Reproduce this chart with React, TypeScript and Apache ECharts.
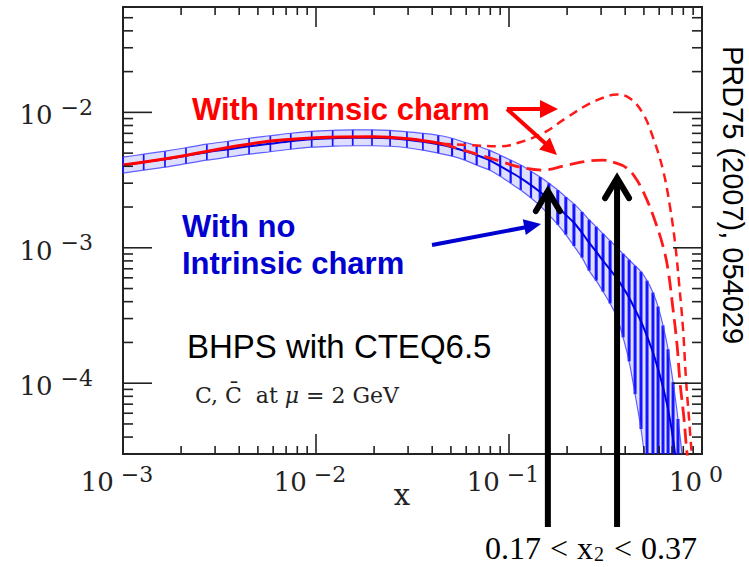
import React, { useEffect, useRef } from "react";
import * as echarts from "echarts";

// ---- axis ranges / tick labels ----
const X_MIN = 0.001;
const X_MAX = 1;
const Y_MIN = 3e-5;
const Y_MAX = 6e-2;
const xTickExps = [-3, -2, -1, 0];
const yTickExps = [-5, -4, -3, -2, -1];
const minorMultipliers = [2, 3, 4, 5, 6, 7, 8, 9];

// ---- "With no intrinsic charm" band (CTEQ6.5) ----
const xGrid = [0.001, 0.00128, 0.00165, 0.00212, 0.00272, 0.0035, 0.0045, 0.0058, 0.0074, 0.0095, 0.0122, 0.0155, 0.0195, 0.0242, 0.0296, 0.0358, 0.043, 0.0507, 0.059, 0.068, 0.079, 0.09, 0.102, 0.115, 0.13, 0.145, 0.161, 0.179, 0.197, 0.217, 0.239, 0.26, 0.283, 0.307, 0.334, 0.363, 0.39, 0.419, 0.45, 0.483, 0.519, 0.557, 0.592, 0.628, 0.667, 0.708, 0.751, 0.798];
const noIcUpper = [0.00467, 0.00491, 0.00517, 0.00548, 0.00582, 0.00612, 0.00644, 0.00672, 0.00701, 0.00725, 0.00737, 0.00743, 0.00743, 0.00737, 0.00719, 0.00701, 0.00678, 0.00644, 0.00602, 0.00567, 0.00526, 0.00483, 0.00444, 0.00408, 0.00368, 0.00333, 0.003, 0.00267, 0.00237, 0.00211, 0.00184, 0.00161, 0.00143, 0.00127, 0.00113, 0.001, 0.000904, 0.000816, 0.000737, 0.000666, 0.000572, 0.000467, 0.000368, 0.000267, 0.000178, 0.000102, 0.0000544, 0.0000254];
const noIcCentral = [0.00408, 0.00429, 0.00451, 0.00479, 0.00508, 0.00534, 0.00562, 0.00587, 0.00612, 0.00633, 0.00644, 0.00649, 0.00649, 0.00644, 0.00628, 0.00607, 0.00582, 0.00553, 0.00517, 0.00483, 0.00444, 0.00401, 0.00362, 0.00327, 0.0029, 0.00258, 0.00229, 0.002, 0.00175, 0.00153, 0.00129, 0.00109, 0.000935, 0.000802, 0.000689, 0.000592, 0.000508, 0.000429, 0.00035, 0.000286, 0.000222, 0.000169, 0.000127, 0.0000935, 0.0000644, 0.0000388, 0.0000197, 0.0000084];
const noIcLower = [0.00356, 0.00375, 0.00394, 0.00418, 0.00444, 0.00467, 0.00491, 0.00512, 0.00534, 0.00553, 0.00562, 0.00567, 0.00567, 0.00562, 0.00548, 0.00526, 0.005, 0.00475, 0.00444, 0.00408, 0.00375, 0.00338, 0.003, 0.00267, 0.00233, 0.00204, 0.00175, 0.00148, 0.00125, 0.00103, 0.000845, 0.000678, 0.000572, 0.000475, 0.000388, 0.000306, 0.000218, 0.000145, 0.000083, 0.0000459, 0.0000214, 0.00001, 0.000005, 0.000003, 0.000002, 0.000001, 0.0000005, 0.0000002];

// ---- "With intrinsic charm" (BHPS) ----
const icSolidX = [0.001, 0.002, 0.005, 0.01, 0.02, 0.03, 0.045];
const icSolidY = [0.00408, 0.00475, 0.00597, 0.00649, 0.00661, 0.00638, 0.00587];
const icHighX = [0.045, 0.063, 0.09, 0.114, 0.15, 0.2, 0.263, 0.334, 0.363, 0.424, 0.494, 0.557, 0.628, 0.683, 0.725, 0.76, 0.798, 0.826, 0.857, 0.888];
const icHighY = [0.00587, 0.00572, 0.00562, 0.00602, 0.00701, 0.00919, 0.01165, 0.01334, 0.01356, 0.01267, 0.00983, 0.00655, 0.00375, 0.002, 0.00109, 0.000553, 0.000249, 0.000107, 0.0000544, 0.0000276];
const icLowX = [0.045, 0.063, 0.09, 0.114, 0.15, 0.2, 0.254, 0.307, 0.346, 0.408, 0.46, 0.519, 0.585, 0.635, 0.667, 0.708, 0.742, 0.769, 0.807, 0.836, 0.867];
const icLowY = [0.00587, 0.00508, 0.00436, 0.00394, 0.00375, 0.00408, 0.00436, 0.00444, 0.00429, 0.00388, 0.00316, 0.00225, 0.00143, 0.000967, 0.000689, 0.00035, 0.000194, 0.000102, 0.0000544, 0.0000306, 0.0000214];

// ---- x2 range arrows: [x, y of arrow tip] ----
const arrowX = [0.159, 0.363];
const arrowTipY = [0.00276, 0.00344];

const BLUE = "#1414ff";
const RED = "#ff1a1a";
const AXIS_COLOR = "#222";
const SERIF = '"DejaVu Serif", serif';
const SANS = '"Liberation Sans", Arial, sans-serif';
const TIMES = '"Liberation Serif", serif';

function buildTicks(exps: number[], lo: number, hi: number) {
  const out: any[] = [];
  exps.forEach((e) => {
    const d = Math.pow(10, e);
    if (d >= lo * 0.9999 && d <= hi * 1.0001) out.push([d, 1]);
    minorMultipliers.forEach((m) => {
      const v = d * m;
      if (v >= lo && v <= hi) out.push([v, 0]);
    });
  });
  return out;
}

function fmt(exps: number[]) {
  return (v: number) => {
    const l = Math.log10(v);
    const e = Math.round(l);
    if (Math.abs(l - e) > 1e-6 || exps.indexOf(e) < 0) return "";
    return `{b|10}{s|${e < 0 ? "\u2212" + -e : e}}`;
  };
}

export default function App() {
  const ref = useRef<HTMLDivElement>(null);
  useEffect(() => {
    if (!ref.current) return;
    const chart = echarts.init(ref.current, undefined, { renderer: "svg" });
    const xTicks = buildTicks(xTickExps, X_MIN, X_MAX);
    const yTicks = buildTicks(yTickExps, Y_MIN, Y_MAX);

    const tickStyle = { stroke: AXIS_COLOR, lineWidth: 1.6 };

    const option: any = {
      animation: false,
      backgroundColor: "#fff",
      grid: {
        left: 123,
        right: 47,
        top: 7,
        bottom: 113,
        show: true,
        borderColor: AXIS_COLOR,
        borderWidth: 2,
        backgroundColor: "transparent",
        containLabel: false,
        outerBoundsMode: "none",
      },
      xAxis: {
        type: "log",
        logBase: 10,
        min: X_MIN,
        max: X_MAX,
        splitNumber: 3,
        axisLine: { show: false },
        axisTick: { show: false },
        minorTick: { show: false },
        splitLine: { show: false },
        axisLabel: {
          margin: 9,
          showMinLabel: true,
          showMaxLabel: true,
          color: AXIS_COLOR,
          formatter: fmt(xTickExps),
          rich: {
            b: { fontFamily: SERIF, fontSize: 26, lineHeight: 32, verticalAlign: "bottom", color: AXIS_COLOR },
            s: { fontFamily: SERIF, fontSize: 22, lineHeight: 19, verticalAlign: "top", color: AXIS_COLOR, padding: [0, 12, 0, 7] },
          },
        },
      },
      yAxis: {
        type: "log",
        logBase: 10,
        min: Y_MIN,
        max: Y_MAX,
        axisLine: { show: false },
        axisTick: { show: false },
        minorTick: { show: false },
        splitLine: { show: false },
        axisLabel: {
          margin: 30,
          showMinLabel: false,
          showMaxLabel: false,
          color: AXIS_COLOR,
          formatter: fmt(yTickExps),
          rich: {
            b: { fontFamily: SERIF, fontSize: 26, lineHeight: 32, verticalAlign: "bottom", color: AXIS_COLOR },
            s: { fontFamily: SERIF, fontSize: 22, lineHeight: 19, verticalAlign: "top", color: AXIS_COLOR, padding: [0, 0, 0, 8] },
          },
        },
      },
      series: [
        // band fill
        {
          type: "custom",
          coordinateSystem: "cartesian2d",
          silent: true,
          z: 2,
          data: [[xGrid[0], noIcCentral[0]]],
          renderItem: (params: any, api: any) => {
            const cs = params.coordSys;
            const bottom = cs.y + cs.height;
            const pts: number[][] = [];
            for (let i = 0; i < xGrid.length; i++) {
              const p = api.coord([xGrid[i], noIcUpper[i]]);
              pts.push([p[0], Math.min(p[1], bottom)]);
            }
            for (let i = xGrid.length - 1; i >= 0; i--) {
              const p = api.coord([xGrid[i], noIcLower[i]]);
              pts.push([p[0], Math.min(p[1], bottom)]);
            }
            return { type: "polygon", shape: { points: pts }, style: { fill: "rgba(20,20,255,0.14)" } };
          },
        },
        // error bars
        {
          type: "custom",
          coordinateSystem: "cartesian2d",
          silent: true,
          z: 3,
          data: xGrid.map((x, i) => [x, noIcLower[i], noIcUpper[i]]),
          encode: { x: 0, y: [1, 2] },
          renderItem: (params: any, api: any) => {
            const cs = params.coordSys;
            const x = api.value(0);
            const lo = api.coord([x, api.value(1)]);
            const hi = api.coord([x, api.value(2)]);
            const yb = Math.min(lo[1], cs.y + cs.height);
            const yt = Math.max(hi[1], cs.y);
            if (yt >= yb) return null;
            const i = params.dataIndex;
            const nb = i + 1 < xGrid.length ? xGrid[i + 1] : xGrid[i - 1];
            const gap = Math.abs(api.coord([nb, api.value(1)])[0] - lo[0]);
            const w = gap < 9 ? 3 : gap < 14 ? 2.2 : 1.7;
            return {
              type: "line",
              shape: { x1: lo[0], y1: yb, x2: lo[0], y2: yt },
              style: { stroke: BLUE, lineWidth: w },
            };
          },
        },
        {
          type: "line",
          data: xGrid.map((x, i) => [x, noIcUpper[i]]),
          showSymbol: false,
          smooth: 0.3,
          clip: true,
          z: 3,
          lineStyle: { color: "#3a3aff", width: 1.2, opacity: 0.8 },
        },
        {
          type: "line",
          data: xGrid.map((x, i) => [x, noIcLower[i]]),
          showSymbol: false,
          smooth: 0.3,
          clip: true,
          z: 3,
          lineStyle: { color: "#3a3aff", width: 1.2, opacity: 0.8 },
        },
        {
          type: "line",
          data: xGrid.map((x, i) => [x, noIcCentral[i]]),
          showSymbol: false,
          smooth: 0.3,
          clip: true,
          z: 4,
          lineStyle: { color: "#0000e0", width: 2 },
        },
        // intrinsic charm curves
        {
          type: "line",
          data: icSolidX.map((x, i) => [x, icSolidY[i]]),
          showSymbol: false,
          smooth: 0.4,
          clip: true,
          z: 5,
          lineStyle: { color: "#ff0000", width: 3 },
        },
        {
          type: "line",
          data: icHighX.map((x, i) => [x, icHighY[i]]),
          showSymbol: false,
          smooth: 0.4,
          clip: true,
          z: 5,
          lineStyle: { color: RED, width: 2.5, type: [9, 6] },
        },
        {
          type: "line",
          data: icLowX.map((x, i) => [x, icLowY[i]]),
          showSymbol: false,
          smooth: 0.4,
          clip: true,
          z: 5,
          lineStyle: { color: RED, width: 2.8, type: [15, 7] },
        },
        // x ticks (bottom + top)
        {
          type: "custom",
          coordinateSystem: "cartesian2d",
          silent: true,
          z: 6,
          data: xTicks.map((t) => [t[0], Y_MIN, t[1]]),
          encode: { x: 0, y: 1 },
          renderItem: (params: any, api: any) => {
            const cs = params.coordSys;
            const p = api.coord([api.value(0), Y_MIN]);
            const len = api.value(2) ? 20 : 8;
            const top = cs.y;
            const bottom = cs.y + cs.height;
            return {
              type: "group",
              children: [
                { type: "line", shape: { x1: p[0], y1: bottom, x2: p[0], y2: bottom - len }, style: tickStyle },
                { type: "line", shape: { x1: p[0], y1: top, x2: p[0], y2: top + len }, style: tickStyle },
              ],
            };
          },
        },
        // y ticks (left + right)
        {
          type: "custom",
          coordinateSystem: "cartesian2d",
          silent: true,
          z: 6,
          data: yTicks.map((t) => [X_MIN, t[0], t[1]]),
          encode: { x: 0, y: 1 },
          renderItem: (params: any, api: any) => {
            const cs = params.coordSys;
            const p = api.coord([X_MIN, api.value(1)]);
            const len = api.value(2) ? 29 : 10;
            const left = cs.x;
            const right = cs.x + cs.width;
            return {
              type: "group",
              children: [
                { type: "line", shape: { x1: left, y1: p[1], x2: left + len, y2: p[1] }, style: tickStyle },
                { type: "line", shape: { x1: right, y1: p[1], x2: right - len, y2: p[1] }, style: tickStyle },
              ],
            };
          },
        },
        // black x2-range arrows
        {
          type: "custom",
          coordinateSystem: "cartesian2d",
          silent: true,
          z: 8,
          data: arrowX.map((x, i) => [x, arrowTipY[i]]),
          encode: { x: 0, y: 1 },
          renderItem: (params: any, api: any) => {
            const cs = params.coordSys;
            const p = api.coord([api.value(0), api.value(1)]);
            const base = cs.y + cs.height + 73;
            return {
              type: "group",
              children: [
                { type: "line", shape: { x1: p[0], y1: p[1] + 3, x2: p[0], y2: base }, style: { stroke: "#000", lineWidth: 6 } },
                {
                  type: "polyline",
                  shape: { points: [[p[0] - 12, p[1] + 23], [p[0], p[1] + 3], [p[0] + 12, p[1] + 23]] },
                  style: { stroke: "#000", lineWidth: 6, fill: "none", lineJoin: "miter", lineCap: "round" },
                },
              ],
            };
          },
        },
      ],
      graphic: [
        // red annotation
        {
          type: "text",
          z: 100,
          x: 192,
          y: 109,
          style: { text: "With Intrinsic charm", fill: "#ff0000", font: `bold 31px ${SANS}`, textAlign: "left", textVerticalAlign: "middle", align: "left", verticalAlign: "middle" },
        },
        { type: "line", z: 100, shape: { x1: 507, y1: 109, x2: 544, y2: 109 }, style: { stroke: "#ff0000", lineWidth: 4 } },
        { type: "polygon", z: 100, shape: { points: [[558, 109], [540, 100], [540, 118]] }, style: { fill: "#ff0000" } },
        { type: "line", z: 100, shape: { x1: 507, y1: 109, x2: 546, y2: 144 }, style: { stroke: "#ff0000", lineWidth: 4 } },
        { type: "polygon", z: 100, shape: { points: [[557, 155], [539.1, 149.4], [549.9, 137.6]] }, style: { fill: "#ff0000" } },
        // blue annotation
        {
          type: "text",
          z: 100,
          x: 182,
          y: 226,
          style: { text: "With no", fill: "#0000d0", font: `bold 31px ${SANS}`, textAlign: "left", textVerticalAlign: "middle", align: "left", verticalAlign: "middle" },
        },
        {
          type: "text",
          z: 100,
          x: 182,
          y: 263,
          style: { text: "Intrinsic charm", fill: "#0000d0", font: `bold 31px ${SANS}`, textAlign: "left", textVerticalAlign: "middle", align: "left", verticalAlign: "middle" },
        },
        { type: "line", z: 100, shape: { x1: 432, y1: 245, x2: 527, y2: 227 }, style: { stroke: "#0000d0", lineWidth: 4 } },
        { type: "polygon", z: 100, shape: { points: [[541, 224], [525.8, 235.1], [522.8, 219.3]] }, style: { fill: "#0000d0" } },
        // BHPS label
        {
          type: "text",
          z: 100,
          x: 187,
          y: 346,
          style: { text: "BHPS with CTEQ6.5", fill: "#000", font: `33px ${SANS}`, textAlign: "left", textVerticalAlign: "middle", align: "left", verticalAlign: "middle" },
        },
        {
          type: "text",
          z: 100,
          x: 195,
          y: 395,
          style: {
            text: "{n|C, C\u0304  at }{i|\u03bc}{n| = 2 GeV}",
            textAlign: "left",
            textVerticalAlign: "middle",
            align: "left",
            verticalAlign: "middle",
            rich: {
              n: { fontFamily: SERIF, fontSize: 22, fill: "#222", color: "#222" },
              i: { fontFamily: SERIF, fontSize: 22, fontStyle: "italic", fill: "#222", color: "#222" },
            },
          },
        },
        // axis name
        {
          type: "text",
          z: 100,
          x: 402,
          y: 495,
          style: { text: "x", fill: AXIS_COLOR, font: `29px ${SERIF}`, textAlign: "center", textVerticalAlign: "middle", align: "center", verticalAlign: "middle" },
        },
        // reference
        {
          type: "text",
          z: 100,
          x: 733,
          y: 195,
          rotation: -Math.PI / 2,
          style: { text: "PRD75 (2007), 054029", fill: "#000", font: `29px ${SANS}`, textAlign: "center", textVerticalAlign: "middle", align: "center", verticalAlign: "middle" },
        },
        // x2 range
        {
          type: "text",
          z: 100,
          x: 485,
          y: 548,
          style: {
            text: "{a|0.17}{o|<}{a|x}{s|2}{o|<}{a|0.37}",
            textAlign: "left",
            textVerticalAlign: "middle",
            align: "left",
            verticalAlign: "middle",
            rich: {
              a: { fontFamily: TIMES, fontSize: 32, lineHeight: 32, verticalAlign: "top", fill: "#000", color: "#000" },
              o: { fontFamily: TIMES, fontSize: 32, lineHeight: 32, verticalAlign: "top", fill: "#000", color: "#000", padding: [0, 9, 0, 9] },
              s: { fontFamily: TIMES, fontSize: 20, lineHeight: 18, verticalAlign: "bottom", fill: "#000", color: "#000", padding: [0, 1, 0, 1] },
            },
          },
        },
      ],
    };
    chart.setOption(option);
    return () => chart.dispose();
  }, []);
  return (
    <div
      ref={ref}
      style={{ position: "fixed", left: 0, top: 0, width: 749, height: 567, background: "#fff" }}
    />
  );
}
